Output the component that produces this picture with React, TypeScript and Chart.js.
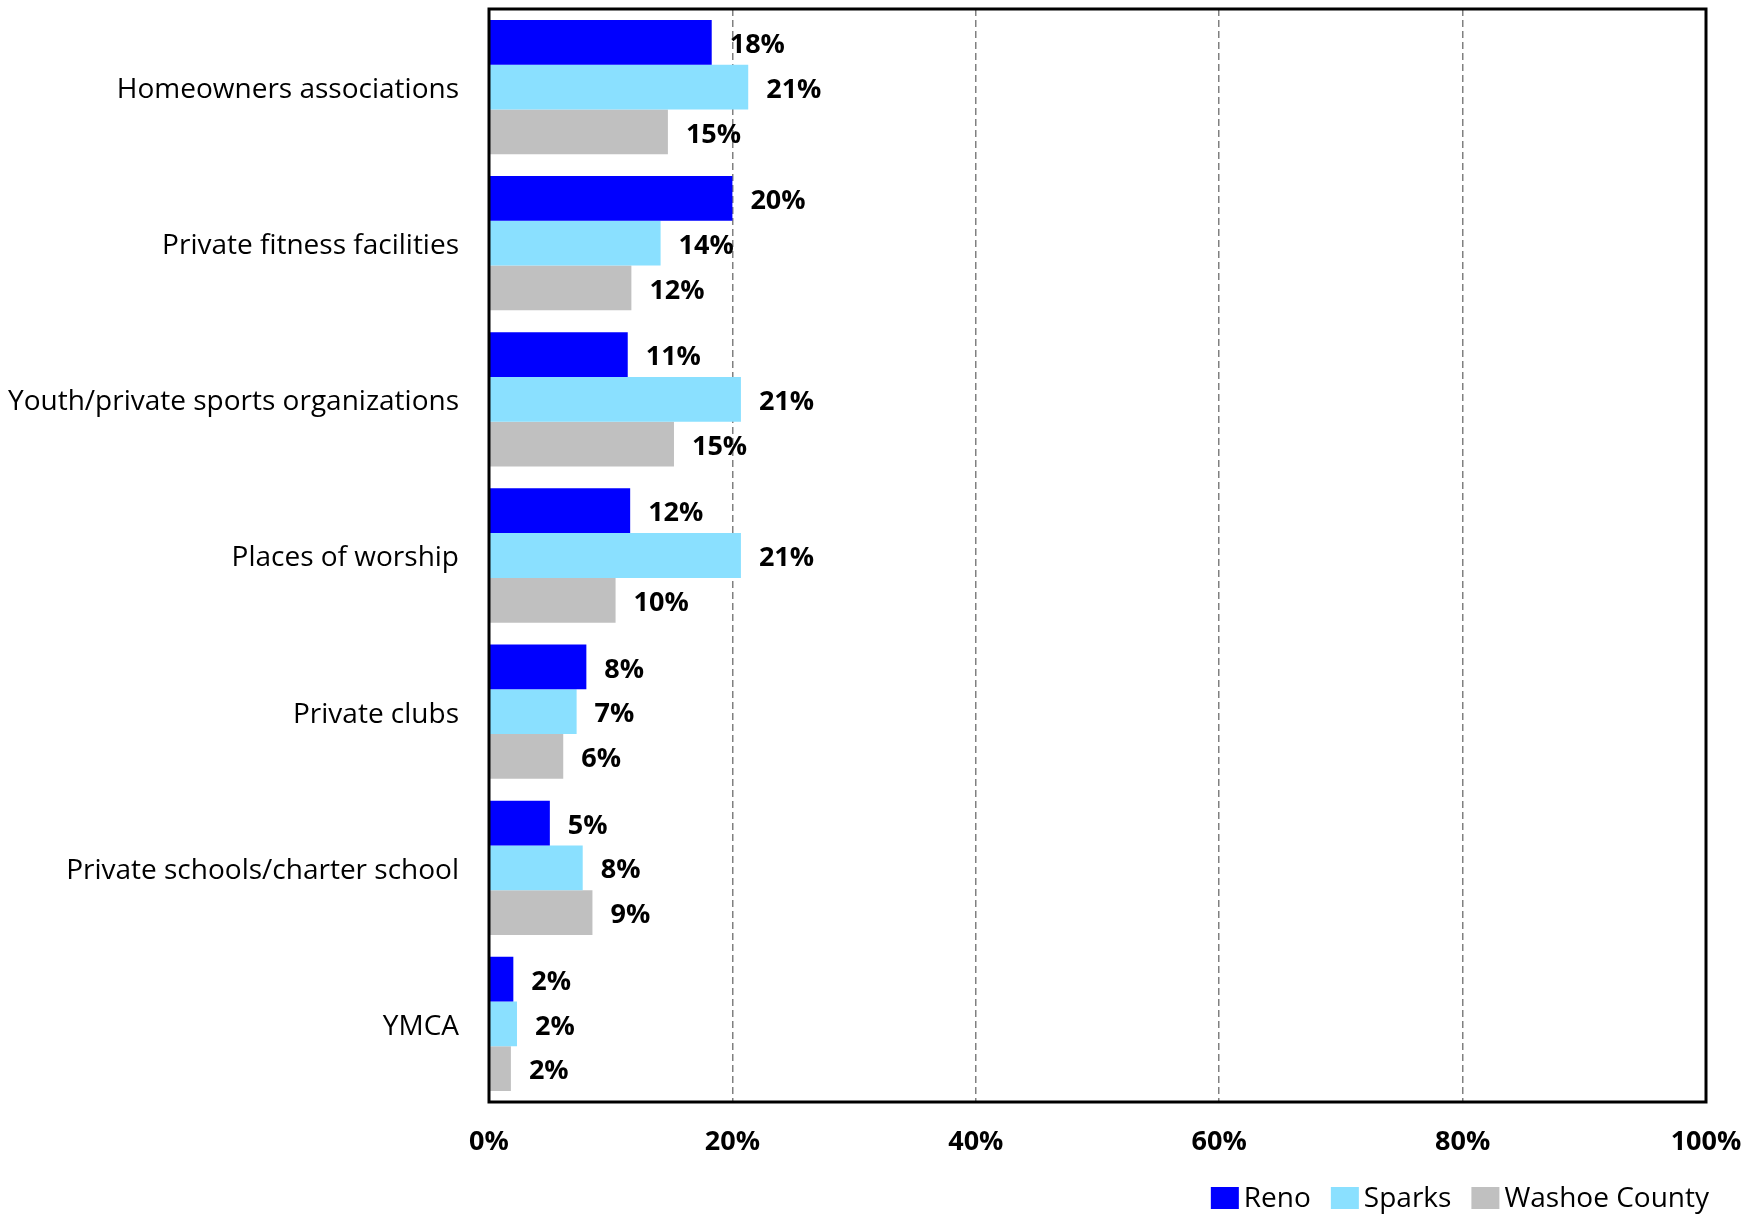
import React, { useEffect, useRef } from "react";
import { Chart, registerables } from "chart.js";

Chart.register(...registerables);

const categories = [
  "Homeowners associations",
  "Private fitness facilities",
  "Youth/private sports organizations",
  "Places of worship",
  "Private clubs",
  "Private schools/charter school",
  "YMCA",
];
const renoValues = [18.3, 20.0, 11.4, 11.6, 8.0, 5.0, 2.0];
const sparksValues = [21.3, 14.1, 20.7, 20.7, 7.2, 7.7, 2.3];
const washoeValues = [14.7, 11.7, 15.2, 10.4, 6.1, 8.5, 1.8];
const seriesNames = ["Reno", "Sparks", "Washoe County"];
const seriesColors = ["#0000ff", "#8ae0ff", "#c0c0c0"];
const xTicks = [0, 20, 40, 60, 80, 100];

const FONT = "'Open Sans', sans-serif";

const framePlugin = {
  id: "frame",
  afterDatasetsDraw(chart: any) {
    const { ctx, chartArea } = chart;
    ctx.save();
    ctx.strokeStyle = "#000";
    ctx.lineWidth = 3;
    ctx.strokeRect(chartArea.left, chartArea.top, chartArea.right - chartArea.left, chartArea.bottom - chartArea.top);
    ctx.restore();
  },
};

const labelPlugin = {
  id: "barLabels",
  afterDatasetsDraw(chart: any) {
    const { ctx } = chart;
    ctx.save();
    ctx.font = `bold 27px ${FONT}`;
    ctx.fillStyle = "#000";
    ctx.textAlign = "left";
    ctx.textBaseline = "middle";
    chart.data.datasets.forEach((ds: any, di: number) => {
      const meta = chart.getDatasetMeta(di);
      meta.data.forEach((bar: any, i: number) => {
        const v = ds.data[i];
        ctx.fillText(Math.round(v) + "%", bar.x + 18, bar.y + 3);
      });
    });
    ctx.restore();
  },
};

// Legend drawn at the bottom right, items taken from the datasets
const legendPlugin = {
  id: "customLegend",
  afterDraw(chart: any) {
    const { ctx, chartArea } = chart;
    ctx.save();
    ctx.font = `28px ${FONT}`;
    ctx.textBaseline = "middle";
    ctx.textAlign = "left";
    const boxW = 28;
    const boxH = 22;
    const boxGap = 5;
    const itemGap = 20;
    const cy = 1198;
    const items = chart.data.datasets.map((ds: any) => ({
      text: ds.label,
      color: ds.backgroundColor,
      w: boxW + boxGap + ctx.measureText(ds.label).width,
    }));
    const total = items.reduce((s: number, it: any) => s + it.w, 0) + itemGap * (items.length - 1);
    let x = chartArea.right + 3 - total;
    items.forEach((it: any) => {
      ctx.fillStyle = it.color;
      ctx.fillRect(x, cy - boxH / 2, boxW, boxH);
      ctx.fillStyle = "#000";
      ctx.fillText(it.text, x + boxW + boxGap, cy + 1);
      x += it.w + itemGap;
    });
    ctx.restore();
  },
};

export default function App() {
  const ref = useRef<HTMLCanvasElement>(null);
  useEffect(() => {
    const chart = new Chart(ref.current!, {
      type: "bar",
      data: {
        labels: categories,
        datasets: [renoValues, sparksValues, washoeValues].map((d, i) => ({
          label: seriesNames[i],
          data: d,
          backgroundColor: seriesColors[i],
          borderWidth: 0,
          categoryPercentage: 0.86,
          barPercentage: 1.0,
        })),
      },
      options: {
        indexAxis: "y",
        animation: false,
        responsive: false,
        layout: { padding: { top: 9, right: 48, left: 0, bottom: 0 } },
        plugins: {
          tooltip: { enabled: false },
          legend: { display: false },
        },
        scales: {
          x: {
            min: 0,
            max: 100,
            afterBuildTicks(scale: any) {
              scale.ticks = xTicks.map((v) => ({ value: v }));
            },
            afterFit(scale: any) {
              scale.height = 112;
              scale.paddingLeft = 0;
              scale.paddingRight = 0;
            },
            ticks: {
              callback: (v: any) => v + "%",
              font: { family: FONT, size: 27, weight: "bold" },
              color: "#000",
              padding: 24,
              maxRotation: 0,
            },
            grid: {
              color: "#808080",
              lineWidth: 1.5,
              drawTicks: false,
            },
            border: { display: false, dash: [7, 4] },
          },
          y: {
            afterFit(scale: any) {
              scale.width = 489;
              scale.paddingTop = 0;
              scale.paddingBottom = 0;
            },
            ticks: {
              font: { family: FONT, size: 28 },
              color: "#000",
              padding: 30,
              labelOffset: 3,
            },
            grid: { display: false, drawTicks: false },
            border: { display: false },
          },
        },
      },
      plugins: [framePlugin, labelPlugin, legendPlugin],
    } as any);
    return () => chart.destroy();
  }, []);
  return (
    <canvas
      ref={ref}
      width={1754}
      height={1214}
      style={{ position: "absolute", left: 0, top: 0, width: 1754, height: 1214 }}
    />
  );
}
